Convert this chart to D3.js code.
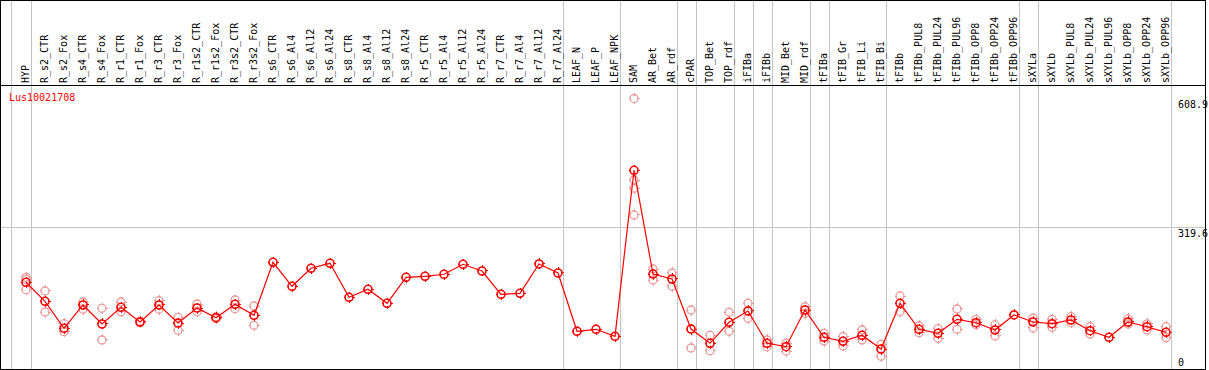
<!DOCTYPE html>
<html>
<head>
<meta charset="utf-8">
<script src="https://d3js.org/d3.v7.min.js"></script>
<style>
  body { margin: 0; background: #fff; }
  text { font-family: "DejaVu Sans Mono", monospace; font-size: 10px; }
</style>
</head>
<body>
<script>
// sample names (columns)
var samples = ["HYP","R_s2_CTR","R_s2_Fox","R_s4_CTR","R_s4_Fox","R_r1_CTR","R_r1_Fox","R_r3_CTR","R_r3_Fox",
  "R_r1s2_CTR","R_r1s2_Fox","R_r3s2_CTR","R_r3s2_Fox","R_s6_CTR","R_s6_Al4","R_s6_Al12","R_s6_Al24",
  "R_s8_CTR","R_s8_Al4","R_s8_Al12","R_s8_Al24","R_r5_CTR","R_r5_Al4","R_r5_Al12","R_r5_Al24",
  "R_r7_CTR","R_r7_Al4","R_r7_Al12","R_r7_Al24","LEAF_N","LEAF_P","LEAF_NPK","SAM","AR_Bet","AR_rdf",
  "cPAR","TOP_Bet","TOP_rdf","iFIBa","iFIBb","MID_Bet","MID_rdf","tFIBa","tFIB_Gr","tFIB_Li","tFIB_Bi",
  "tFIBb","tFIBb_PUL8","tFIBb_PUL24","tFIBb_PUL96","tFIBb_OPP8","tFIBb_OPP24","tFIBb_OPP96",
  "sXYLa","sXYLb","sXYLb_PUL8","sXYLb_PUL24","sXYLb_PUL96","sXYLb_OPP8","sXYLb_OPP24","sXYLb_OPP96"];

// mean expression per sample
var means = [195.2,152.4,91.6,144.1,101.3,138.9,105.8,144.1,103.5,137.3,115.5,145.6,120.9,
  240.2,186.2,226.7,237.9,161.4,179.4,147.9,206.4,208.7,213.2,235.7,220.6,168.1,170.4,236.4,216.1,
  84.9,89.4,73.6,447.3,213.8,202.6,90.0,57.9,105.1,130.6,57.9,50.2,132.8,71.4,62.4,75.9,45.0,
  147.9,89.4,80.4,111.9,104.2,87.8,121.6,105.8,102.0,110.3,86.2,71.4,105.8,95.2,82.6];

// replicate values per sample
var reps = [[206.4,201.9,178.5],[175.6,128.3],[102.0,84.0],[150.8,134.4],[136.6,65.3],[150.8,129.0],
  [107.4,104.2],[153.7,134.4],[116.4,87.1],[146.3,129.0],[117.7,113.2],[155.3,135.7],[141.8,98.4],
  [],[],[],[],[],[],[],[],[],[],[],[],[],[],[],[],
  [],[],[],[608.9,425.4,406.8,346.7],[225.1,200.3],[216.1,186.2],
  [132.8,47.3],[75.9,41.2],[127.6,84.9],[147.9,114.1],[65.3,50.2],[57.9,40.5],[140.2,125.4],
  [80.4,63.0],[72.7,51.8],[87.8,65.3],[55.6,28.6],
  [164.3,129.4],[96.8,81.7],[90.7,69.1],[135.1,89.4],[111.9,99.7],[99.7,74.3],[],
  [114.8,92.3],[111.9,93.9],[117.7,104.2],[95.2,78.8],[],[113.2,101.3],[101.3,87.8],[95.2,70.5]];

// number of samples in each boxed group
var groupSizes = [1,28,3,3,1,2,1,1,2,1,3,7,1,7];
var yTicks = [608.9, 319.6, 0];
var geneName = "Lus10021708";

var W = 1209, H = 370;
var headerBottom = 85.5, plotRight = 1205.5, plotBottom = 369.5;

var svg = d3.select("body").append("svg")
  .attr("width", W).attr("height", H)
  .attr("shape-rendering", "crispEdges");

var x = d3.scalePoint().domain(samples).range([26, 1166]);
var y = d3.scaleLinear().domain([0, 608.9]).range([369, 98.5]);

// vertical group separators
var seps = [11];
var idx = -1;
groupSizes.forEach(function(n){ idx += n; seps.push(Math.round(x(samples[idx]) + 4.7)); });
svg.append("g").selectAll("line").data(seps).enter().append("line")
  .attr("x1", function(d){ return d + 0.5; }).attr("x2", function(d){ return d + 0.5; })
  .attr("y1", 0).attr("y2", plotBottom)
  .attr("stroke", "#c4c4c4").attr("stroke-width", 1);

// horizontal gridline at middle tick
svg.append("line")
  .attr("x1", 0).attr("x2", plotRight)
  .attr("y1", Math.round(y(319.6)) + 0.5).attr("y2", Math.round(y(319.6)) + 0.5)
  .attr("stroke", "#c4c4c4").attr("stroke-width", 1);

// frame
var frame = svg.append("g").attr("stroke", "#000").attr("stroke-width", 1);
frame.append("line").attr("x1", 0).attr("x2", plotRight).attr("y1", 0.5).attr("y2", 0.5);
frame.append("line").attr("x1", 0).attr("x2", plotRight).attr("y1", headerBottom).attr("y2", headerBottom);
frame.append("line").attr("x1", 0).attr("x2", plotRight).attr("y1", plotBottom).attr("y2", plotBottom);
frame.append("line").attr("x1", 0.5).attr("x2", 0.5).attr("y1", 0).attr("y2", plotBottom);
frame.append("line").attr("x1", plotRight).attr("x2", plotRight).attr("y1", 0).attr("y2", plotBottom);

// column labels
svg.append("g").attr("shape-rendering", "auto").selectAll("text").data(samples).enter().append("text")
  .attr("transform", function(d){ return "translate(" + (x(d) + 3) + ",83) rotate(-90)"; })
  .attr("fill", "#000")
  .text(function(d){ return d; });

// y tick labels
svg.append("g").selectAll("text").data(yTicks).enter().append("text")
  .attr("x", 1178)
  .attr("y", function(d){ return d === 0 ? 366 : y(d) + 9.5; })
  .attr("fill", "#000")
  .text(function(d){ return d; });

// gene name
svg.append("text").attr("x", 9).attr("y", 100.5).attr("fill", "#f00").text(geneName);

function marker(g, cx, cy, color, sw) {
  g.append("circle").attr("cx", cx).attr("cy", cy).attr("r", 4)
    .attr("shape-rendering", "auto")
    .attr("fill", "none").attr("stroke", color).attr("stroke-width", sw);
  [[0,-1],[0,1],[-1,0],[1,0]].forEach(function(v){
    g.append("line")
      .attr("x1", cx + v[0]*3).attr("y1", cy + v[1]*3)
      .attr("x2", cx + v[0]*5.5).attr("y2", cy + v[1]*5.5)
      .attr("stroke", color).attr("stroke-width", 1);
  });
}

// replicate markers
var repG = svg.append("g");
reps.forEach(function(r, i){
  r.forEach(function(v){ marker(repG, x(samples[i]), y(v), "#ec9a9a", 1.3); });
});

// mean line
var line = d3.line().x(function(d, i){ return x(samples[i]); }).y(function(d){ return y(d); });
svg.append("path").datum(means).attr("d", line)
  .attr("shape-rendering", "auto")
  .attr("fill", "none").attr("stroke", "#f00").attr("stroke-width", 1.2);

// mean markers
var meanG = svg.append("g");
means.forEach(function(v, i){ marker(meanG, x(samples[i]), y(v), "#f00", 1.6); });
</script>
</body>
</html>
